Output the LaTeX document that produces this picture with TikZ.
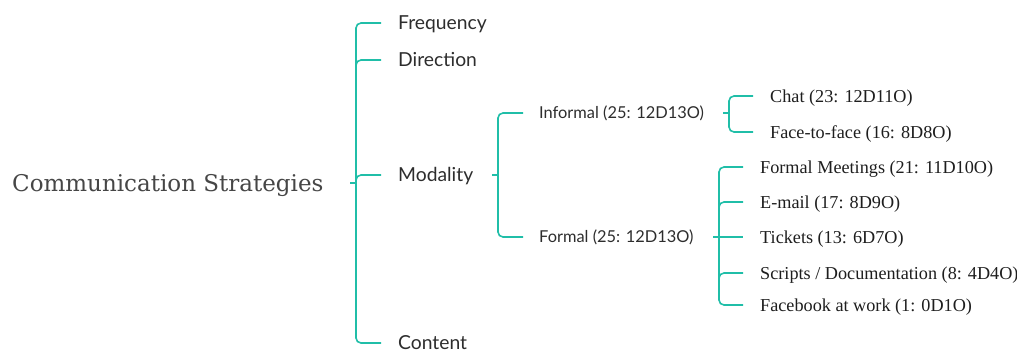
\documentclass[tikz,border=0pt]{standalone}
\usepackage{fontspec}
\setmainfont{Liberation Serif}
\newfontfamily\titlefont{DejaVu Serif}
\newfontfamily\labelfont{Lato}
\definecolor{branch}{RGB}{32,190,168}
\definecolor{ink}{RGB}{45,45,45}
\definecolor{titleink}{RGB}{70,70,70}
\definecolor{leafink}{RGB}{30,30,30}
\begin{document}
\begin{tikzpicture}[x=1pt,y=-1pt,
  % text boxes span baseline to cap height, so 'west' sits on the letters' middle
  titlestyle/.style={font=\titlefont\fontsize{23}{26}\selectfont, text=titleink,
    inner sep=0pt, text height=16.8pt, text depth=0pt, anchor=west},
  toplab/.style={font=\labelfont\fontsize{19.3}{22}\selectfont, text=ink,
    inner sep=0pt, text height=13.9pt, text depth=0pt, anchor=west},
  sublab/.style={font=\labelfont\fontsize{16.4}{19}\selectfont, text=ink,
    inner sep=0pt, text height=11.8pt, text depth=0pt, anchor=west},
  leaf/.style={font=\fontsize{18.2}{21}\selectfont, text=leafink,
    inner sep=0pt, text height=12pt, text depth=0pt, anchor=west},
  link/.style={draw=branch, line width=1.6pt, rounded corners=5pt}]
\useasboundingbox (0,0) rectangle (1017,354);

% labels
\node[titlestyle] (root) at (12,183) {Communication Strategies};
\node[toplab] (freq) at (398,23) {Frequency};
\node[toplab] (dir) at (398,60) {Direction};
\node[toplab] (moda) at (398,175) {Modality};
\node[toplab] (cont) at (398,343) {Content};
\node[sublab] (inf) at (539,113) {Informal (25: 12D13O)};
\node[sublab] (form) at (539,237) {Formal (25: 12D13O)};
\node[leaf] (chat) at (770,96) {Chat (23: 12D11O)};
\node[leaf] (face) at (770,132) {Face-to-face (16: 8D8O)};
\node[leaf] (meet) at (760,167) {Formal Meetings (21: 11D10O)};
\node[leaf] (mail) at (760,202) {E-mail (17: 8D9O)};
\node[leaf] (tick) at (760,237) {Tickets (13: 6D7O)};
\node[leaf] (scri) at (760,273) {Scripts / Documentation (8: 4D4O)};
\node[leaf] (fb) at (760,305) {Facebook at work (1: 0D1O)};

% where each parent meets the spine of its bracket
\coordinate (s0) at (356,183);
\coordinate (s1) at (498,175);
\coordinate (s2) at (729,113);
\coordinate (s3) at (719,237);

% root bracket
\draw[link] ([xshift=-6pt]s0) -- (s0);
\draw[link] ([xshift=-17pt]freq.west) -- (freq.west -| s0)
  -- (cont.west -| s0) -- ([xshift=-17pt]cont.west);
\draw[link] ([yshift=-5pt]dir.west -| s0) -- (dir.west -| s0) -- ([xshift=-17pt]dir.west);
\draw[link] ([yshift=-5pt]moda.west -| s0) -- (moda.west -| s0) -- ([xshift=-17pt]moda.west);

% modality bracket
\draw[link] ([xshift=-6pt]s1) -- (s1);
\draw[link] ([xshift=-16pt]inf.west) -- (inf.west -| s1)
  -- (form.west -| s1) -- ([xshift=-16pt]form.west);

% informal bracket
\draw[link] ([xshift=-6pt]s2) -- (s2);
\draw[link] ([xshift=-17pt]chat.west) -- (chat.west -| s2)
  -- (face.west -| s2) -- ([xshift=-17pt]face.west);

% formal bracket
\draw[link] ([xshift=-6pt]s3) -- ([xshift=-17pt]tick.west);
\draw[link] ([xshift=-17pt]meet.west) -- (meet.west -| s3)
  -- (fb.west -| s3) -- ([xshift=-17pt]fb.west);
\draw[link] ([yshift=-5pt]mail.west -| s3) -- (mail.west -| s3) -- ([xshift=-17pt]mail.west);
\draw[link] ([yshift=-5pt]scri.west -| s3) -- (scri.west -| s3) -- ([xshift=-17pt]scri.west);
\end{tikzpicture}
\end{document}
